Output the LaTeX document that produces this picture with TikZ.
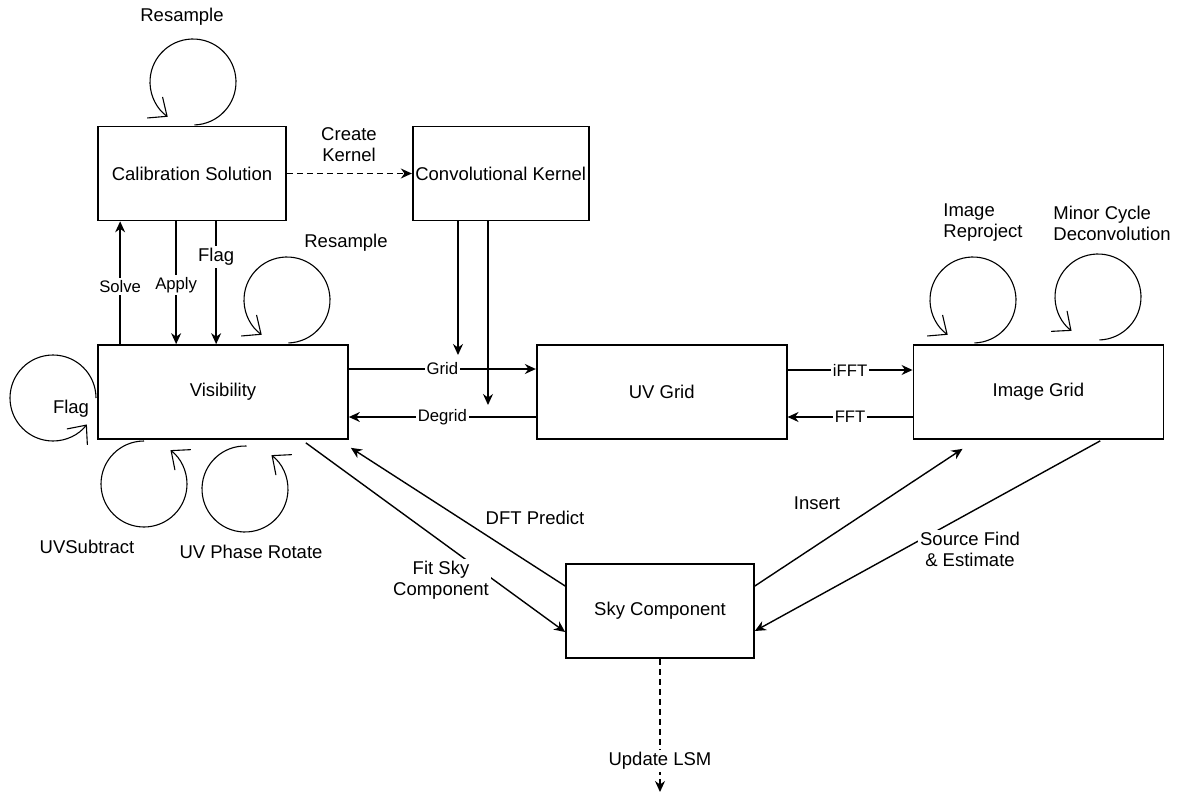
\documentclass[tikz,border=0pt]{standalone}
\usepackage{fontspec}
\setmainfont{Liberation Sans}
\usetikzlibrary{arrows.meta}
\usetikzlibrary{positioning,calc}

\begin{document}
\begin{tikzpicture}[x=0.5pt, y=-0.5pt,
                font=\fontsize{9.25}{10.5}\selectfont,
                block/.style={rectangle, draw, line width=0.85pt, fill=white, minimum height=47pt, inner sep=0pt},
                lbl/.style={font=\fontsize{9.25}{10.5}\selectfont, align=center, inner sep=1pt},
                edgelbl/.style={font=\fontsize{8.35}{10}\selectfont, fill=white, inner sep=1pt},
                arrow/.style={draw, line width=0.7pt, -{Stealth[length=5.5pt, width=5pt]}},
                dasharrow/.style={arrow, dash pattern=on 3pt off 2pt},
                selfarc/.style={draw, line width=0.55pt, -{Straight Barb[length=7.5pt, width=13pt, line width=0.55pt]}}
            ]
            \useasboundingbox (0,0) rectangle (1179,797);

            % boxes
            \node[block, minimum width=94pt] (cal) at (192,173.5) {Calibration Solution};
            \node[block, minimum width=88pt, right=62.5pt of cal] (kern) {Convolutional Kernel};
            \node[block, minimum width=125pt] (vis) at (223,392) {Visibility};
            \node[block, minimum width=125pt, right=93.5pt of vis] (uv) {UV Grid};
            \node[block, minimum width=125pt, right=62.5pt of uv] (img) {Image Grid};
            \node[block, minimum width=94pt] (sky) at (660,611) {Sky Component};

            % calibration
            \path[dasharrow] (cal) -- (kern);
            \node[lbl] (createlbl) at (349,145) {Create\\Kernel};
            \path[arrow] ($(vis.north west)+(23,0)$) -- ($(cal.south west)+(23,0)$) node[edgelbl, pos=0.47] (solvelbl) {Solve};
            \path[arrow] ($(cal.south west)+(79,0)$) -- ($(vis.north west)+(79,0)$) node[edgelbl, pos=0.52] (applylbl) {Apply};
            \path[arrow] ($(cal.south west)+(119,0)$) -- ($(vis.north west)+(119,0)$) node[lbl, fill=white, pos=0.29] (flaglbl) {Flag};

            % gridding
            \coordinate (kgrid) at (458,355);
            \coordinate (kdegrid) at (488,405);
            \path[arrow] (kern.south -| kgrid) -- (kgrid);
            \path[arrow] (kern.south -| kdegrid) -- (kdegrid);
            \path[arrow] ([yshift=11.5pt]vis.east) -- ([yshift=11.5pt]uv.west) node[edgelbl, midway] (gridlbl) {Grid};
            \path[arrow] ([yshift=-12.5pt]uv.west) -- ([yshift=-12.5pt]vis.east) node[edgelbl, midway] (degridlbl) {Degrid};
            \path[arrow] ([yshift=11pt]uv.east) -- ([yshift=11pt]img.west) node[edgelbl, midway] (ifftlbl) {iFFT};
            \path[arrow] ([yshift=-12.5pt]img.west) -- ([yshift=-12.5pt]uv.east) node[edgelbl, midway] (fftlbl) {FFT};

            % sky component
            \path[arrow] ($(vis.south east)+(-43,3)$) -- ([yshift=-10.5pt]sky.west);
            \node[lbl, fill=white] (fitlbl) at (441,580) {Fit Sky\\Component};
            \path[arrow] ([yshift=12.5pt]sky.west) -- ($(vis.south east)+(2,8)$);
            \node[lbl] (dftlbl) at (535,518) {DFT Predict};
            \path[arrow] ([yshift=12.5pt]sky.east) -- ($(img.south west)+(50,9)$);
            \node[lbl] (insertlbl) at (817,503) {Insert};
            \path[arrow] ($(img.south east)+(-64,1)$) -- ([yshift=-10pt]sky.east);
            \node[lbl, fill=white] (srclbl) at (970,549) {Source Find\\\& Estimate};
            \coordinate (lsm) at (660,792);
            \path[dasharrow] (sky.south) -- (lsm);
            \node[lbl, fill=white] (lsmlbl) at (660,761) {Update LSM};

            % self loops
            \coordinate (calres) at (193,82);
            \coordinate (visres) at (287,300);
            \coordinate (visflag) at (53,398);
            \coordinate (uvsub) at (144,484);
            \coordinate (uvrot) at (245,489);
            \coordinate (reproj) at (973,300);
            \coordinate (minor) at (1098,297);
            \draw[selfarc] (calres) ++(-88:21.5pt) arc[start angle=-88, end angle=234, radius=21.5pt];
            \draw[selfarc] (visres) ++(-88:21.5pt) arc[start angle=-88, end angle=234, radius=21.5pt];
            \draw[selfarc] (reproj) ++(-88:21.5pt) arc[start angle=-88, end angle=234, radius=21.5pt];
            \draw[selfarc] (minor) ++(-88:21.5pt) arc[start angle=-88, end angle=232, radius=21.5pt];
            \draw[selfarc] (visflag) ++(0:21.5pt) arc[start angle=0, end angle=322, radius=21.5pt];
            \draw[selfarc] (uvsub) ++(90:21.5pt) arc[start angle=90, end angle=412, radius=21.5pt];
            \draw[selfarc] (uvrot) ++(88:21.5pt) arc[start angle=88, end angle=412, radius=21.5pt];
            \node[lbl] (calreslbl) at (182,17) {Resample};
            \node[lbl] (visreslbl) at (346,243) {Resample};
            \node[lbl] (visflaglbl) at (71,409) {Flag};
            \node[lbl] (uvsublbl) at (87,547) {UVSubtract};
            \node[lbl] (uvrotlbl) at (251,552) {UV Phase Rotate};
            \node[lbl, anchor=west, align=left] (reprojlbl) at (941,223) {Image\\Reproject};
            \node[lbl, anchor=west, align=left] (minorlbl) at (1051,223) {Minor Cycle\\Deconvolution};
        \end{tikzpicture}
\end{document}
